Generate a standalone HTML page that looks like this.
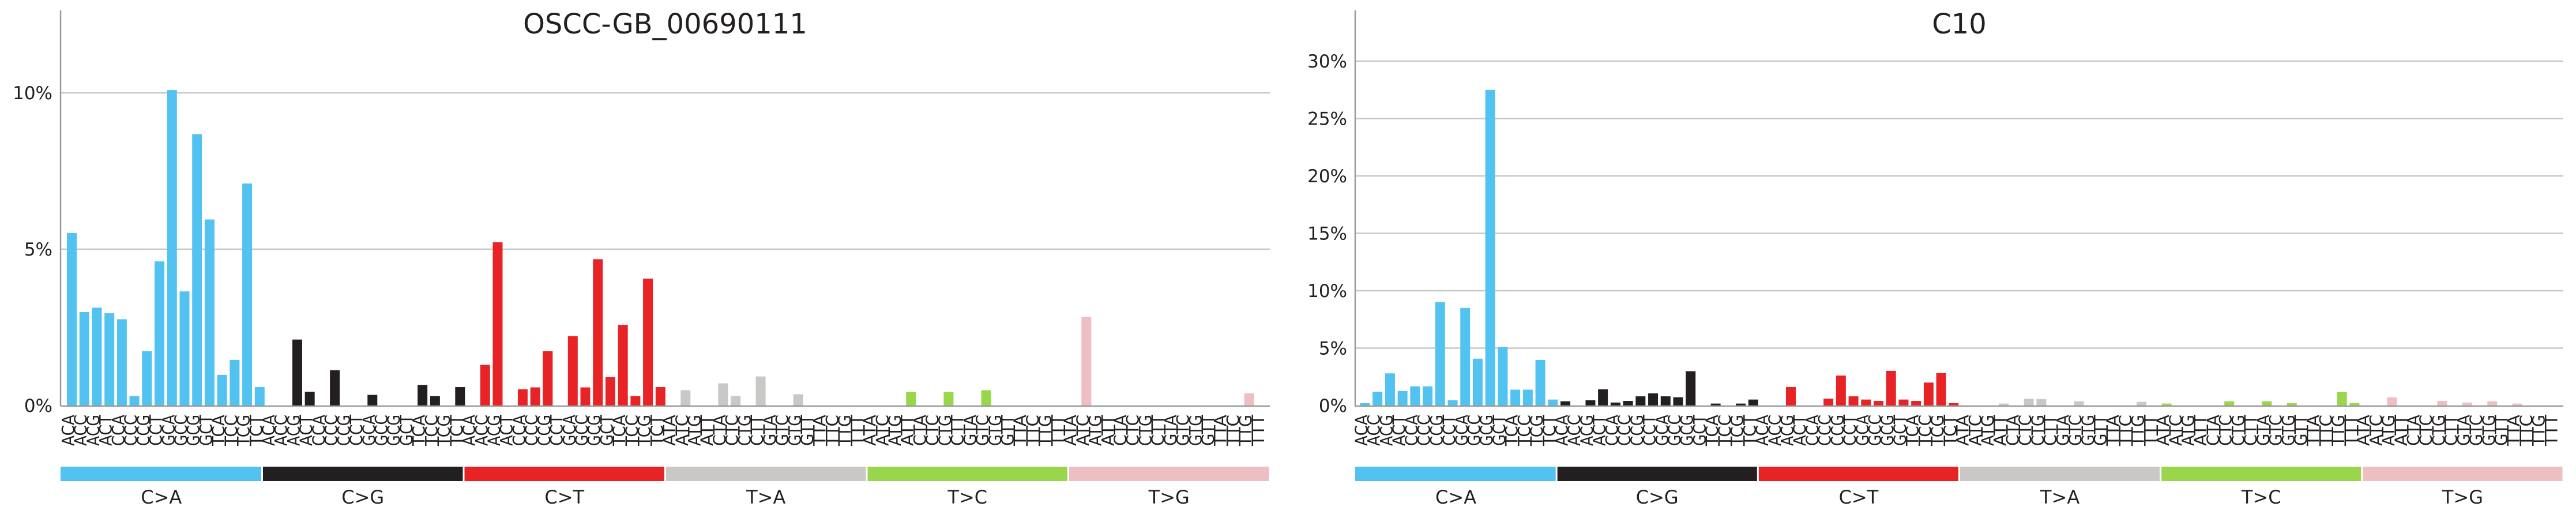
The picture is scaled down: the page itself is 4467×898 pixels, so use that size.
<!DOCTYPE html>
<html><head><meta charset="utf-8"><style>
html,body{margin:0;padding:0;background:#fff}
svg{display:block}
text{font-family:"DejaVu Sans","Liberation Sans",sans-serif;fill:#231f20}
</style></head><body>
<svg id="chart" width="4467" height="898" viewBox="0 0 4467 898" xmlns="http://www.w3.org/2000/svg"></svg>
<script>
const mutationTypes = ["C>A","C>G","C>T","T>A","T>C","T>G"];
const typeColors = ["#52c2f0","#231f20","#e72326","#c9c8c7","#99d64b","#edbec2"];
const bases = ["A","C","G","T"];
const leftTitle = "OSCC-GB_00690111";
const rightTitle = "C10";
const leftTicks = [0,5,10];
const rightTicks = [0,5,10,15,20,25,30];
const leftValues = [
5.52,2.99,3.13,2.95,2.76,0.30,1.74,4.61,10.09,3.65,8.68,5.95,0.98,1.46,7.10,0.59,
0,0,2.11,0.44,0,1.13,0,0,0.34,0,0,0,0.66,0.30,0,0.59,
0,1.30,5.22,0,0.52,0.58,1.74,0,2.22,0.58,4.68,0.91,2.58,0.30,4.06,0.59,
0,0.49,0,0,0.71,0.30,0,0.93,0,0,0.36,0,0,0,0,0,
0,0,0,0.43,0,0,0.43,0,0,0.49,0,0,0,0,0,0,
0,2.83,0,0,0,0,0,0,0,0,0,0,0,0,0.39,0];
const rightValues = [
0.20,1.20,2.80,1.26,1.67,1.67,9.00,0.46,8.50,4.08,27.5,5.09,1.38,1.38,3.97,0.52,
0.37,0,0.46,1.41,0.26,0.40,0.80,1.06,0.80,0.72,2.99,0,0.17,0,0.17,0.52,
0,0,1.61,0,0,0.60,2.61,0.80,0.52,0.40,3.02,0.52,0.40,2.00,2.82,0.20,
0,0,0,0.17,0,0.60,0.57,0,0,0.37,0,0,0,0,0.32,0,
0.17,0,0,0,0,0.37,0,0,0.37,0,0.20,0,0,0,1.18,0.20,
0,0,0.72,0,0,0,0.40,0,0.26,0,0.37,0,0.17,0,0,0];

const NS="http://www.w3.org/2000/svg";
const svg=document.getElementById('chart');
function mk(tag,attrs,parent){const e=document.createElementNS(NS,tag);for(const k in attrs)e.setAttribute(k,attrs[k]);(parent||svg).appendChild(e);return e;}

function drawPanel(opt){
  const g=mk('g',{});
  
  
  const x0=opt.x0,x1=opt.x1,y0=703,yTop=18;
  const pitch=21.72;
  const yScale=v=>y0-(v/opt.tickStep)*opt.stepPx;
  const xCenter=i=>opt.c0+i*pitch;
  opt.ticks.forEach(t=>{
    if(t>0){
      const l=mk('line',{x1:x0,x2:x1,y1:yScale(t),y2:yScale(t),stroke:'#c8c8c8','stroke-width':2.5},g);
      
      
    }
    const tx=mk('text',{x:x0-14,y:yScale(t)+11,'text-anchor':'end','font-size':31},g);
    
    
    tx.textContent=t+'%';
  });
  opt.values.forEach((v,i)=>{
    const cat=Math.floor(i/16);
    const h=y0-yScale(v);
    if(h<=0)return;
    const r=mk('rect',{x:xCenter(i)-8.5,y:yScale(v),width:17,height:h,fill:typeColors[cat]},g);
    
    
  });
  const ax=mk('line',{x1:x0,x2:x0,y1:yTop,y2:y0+1,stroke:'#999','stroke-width':2.5},g);
  
  
  const bx=mk('line',{x1:x0,x2:x1,y1:y0+1,y2:y0+1,stroke:'#999','stroke-width':2.5},g);
  
  
  for(let i=0;i<96;i++){
    const cat=Math.floor(i/16),within=i%16;
    const ref=mutationTypes[cat][0];
    const lab=bases[Math.floor(within/4)]+ref+bases[within%4];
    const t=mk('text',{transform:`translate(${xCenter(i)+4},719) rotate(-90)`,'text-anchor':'end','font-size':29,textLength:54,lengthAdjust:'spacingAndGlyphs','font-family':'"DejaVu Sans","Liberation Sans",sans-serif'},g);
    
    
    t.textContent=lab;
  }
  const segW=(x1-x0)/6;
  mutationTypes.forEach((m,k)=>{
    const r=mk('rect',{x:x0+k*segW+(k?1.5:0),y:809,width:segW-(k?1.5:0)-1.5,height:25,fill:typeColors[k]},g);
    
    
    const t=mk('text',{x:x0+k*segW+segW/2,y:873,'text-anchor':'middle','font-size':32},g);
    
    
    t.textContent=m;
  });
  const tt=mk('text',{x:(x0+x1)/2,y:58,'text-anchor':'middle','font-size':48},g);
  
  
  tt.textContent=opt.title;
}
drawPanel({name:'left-panel',x0:105,x1:2202,c0:124.5,values:leftValues,ticks:leftTicks,tickStep:5,stepPx:271,title:leftTitle});
drawPanel({name:'right-panel',x0:2350,x1:4445,c0:2367,values:rightValues,ticks:rightTicks,tickStep:5,stepPx:99.5,title:rightTitle});
</script>
</body></html>
